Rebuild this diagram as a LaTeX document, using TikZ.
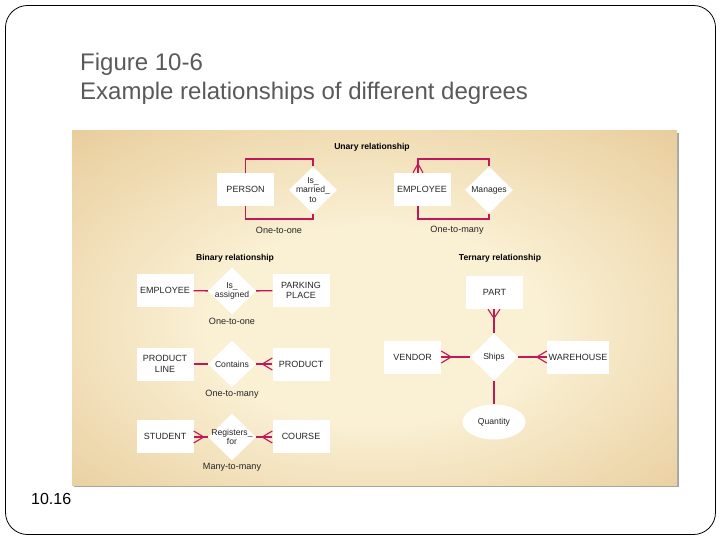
\documentclass[tikz,border=0pt]{standalone}
\usepackage{fontspec}
\setmainfont{Liberation Sans}
\usetikzlibrary{shapes.geometric,calc}
\definecolor{rl}{RGB}{192,24,88}
\definecolor{bgin}{RGB}{250,240,212}
\definecolor{bgout}{RGB}{220,182,118}
\definecolor{ttl}{RGB}{89,89,89}
\pgfdeclareradialshading{panelshade}{\pgfpoint{0bp}{-3bp}}{color(0bp)=(bgin); color(14bp)=(bgin); color(52bp)=(bgout); color(72bp)=(bgout)}
\begin{document}
\begin{tikzpicture}[x=1pt,y=-1pt,
  ent/.style={rectangle, fill=white, minimum width=57pt, minimum height=33pt, inner sep=1pt, font=\fontsize{9}{10.5}\selectfont, align=center, text=black!85},
  rel/.style={diamond, fill=white, minimum width=48pt, minimum height=47pt, inner sep=0pt},
  rtxt/.style={font=\fontsize{8.6}{9.8}\selectfont, align=center, inner sep=0pt, text=black!85},
  card/.style={font=\fontsize{9.1}{11}\selectfont, text=black!85, inner sep=0pt},
  head/.style={font=\bfseries\fontsize{8.6}{10}\selectfont, inner sep=0pt},
  conn/.style={draw=rl, line width=1.4pt},
  crow/.style={draw=rl, line width=1.1pt},
  ttlstyle/.style={font=\fontsize{24}{29}\selectfont, text=ttl, anchor=base west, inner sep=0pt}
]
\useasboundingbox (0,0) rectangle (720,540);
\draw[black, line width=0.8pt, rounded corners=22pt] (5.5,5.5) rectangle (715.5,534.5);

\node[ttlstyle] (t1) at (80,71) {Figure 10-6};
\node[ttlstyle] (t2) at (80,100) {Example relationships of different degrees};
\node[font=\fontsize{16}{19}\selectfont, anchor=base west, inner sep=0pt] (pg) at (31,504) {10.16};

% panel
\fill[black!35] (74,133) rectangle (678.5,486.5);
\shade[shading=panelshade] (72,131) rectangle (677,485);

% headings
\node[head] (hu) at (372,147) {Unary relationship};
\node[head] (hb) at (235,258) {Binary relationship};
\node[head] (ht) at (500,258) {Ternary relationship};

% unary
\node[ent] (person) at (245.5,189.5) {PERSON};
\node[rel] (marry) at (313,190) {};
\node[rtxt] at (marry) {Is\_\\married\_\\to};
\node[ent] (emp1) at (422,189.5) {EMPLOYEE};
\node[rel] (manages) at (489,190) {};
\node[rtxt] at (manages) {Manages};
\coordinate (u1t) at (0,159);
\coordinate (u1b) at (0,219);
\draw[conn] (person.north) -- (person.north |- u1t) -| (marry.north);
\draw[conn] (person.south) -- (person.south |- u1b) -| (marry.south);
\coordinate (e1t) at ($(emp1.north)+(-4,0)$);
\coordinate (e1b) at ($(emp1.south)+(-4,0)$);
\draw[conn] (e1t) -- (e1t |- u1t) -| (manages.north);
\draw[conn] (e1b) -- (e1b |- u1b) -| (manages.south);
\draw[crow] ($(e1t)+(-5,0)$) -- ($(e1t)+(0,-9)$) -- ($(e1t)+(5,0)$);
\node[card] (c1) at (279,230) {One-to-one};
\node[card] (c2) at (457,230) {One-to-many};

% binary
\node[ent] (emp2) at (165,290.5) {EMPLOYEE};
\node[rel] (assign) at (232,291) {};
\node[rtxt] at (assign) {Is\_\\assigned};
\node[ent] (park) at (301,290.5) {PARKING\\PLACE};
\draw[conn] (emp2) -- (assign);
\draw[conn] (assign) -- (park);
\node[card] (c3) at (232,321) {One-to-one};

\node[ent] (pline) at (165,364) {PRODUCT\\LINE};
\node[rel] (contains) at (232,364) {};
\node[rtxt] at (contains) {Contains};
\node[ent] (product) at (301,364) {PRODUCT};
\draw[conn] (pline) -- (contains);
\draw[conn] (contains) -- (product);
\draw[crow] ($(product.west)+(0,-6)$) -- ($(product.west)+(-10,0)$) -- ($(product.west)+(0,6)$);
\node[card] (c4) at (232,394) {One-to-many};

\node[ent] (student) at (165,436) {STUDENT};
\node[rel] (regs) at (232,437) {};
\node[rtxt] at (regs) {Registers\_\\for};
\node[ent] (course) at (301,436) {COURSE};
\draw[conn] (student.east |- regs) -- (regs);
\draw[conn] (regs) -- (course.west |- regs);
\draw[crow] ($(student.east |- regs)+(0,-6)$) -- ($(student.east |- regs)+(10,0)$) -- ($(student.east |- regs)+(0,6)$);
\draw[crow] ($(course.west |- regs)+(0,-6)$) -- ($(course.west |- regs)+(-10,0)$) -- ($(course.west |- regs)+(0,6)$);
\node[card] (c5) at (232,467) {Many-to-many};

% ternary
\node[ent] (part) at (494.5,292.5) {PART};
\node[rel] (ships) at (494,357) {};
\node[rtxt] at (ships) {Ships};
\node[ent] (vendor) at (412.5,357) {VENDOR};
\node[ent, minimum width=62pt] (wh) at (578,357) {WAREHOUSE};
\node[ellipse, fill=white, minimum width=63pt, minimum height=35pt, inner sep=0pt, font=\fontsize{8.6}{9.8}\selectfont, text=black!85] (qty) at (494,422) {Quantity};
\draw[conn] (part.south -| ships) -- (ships);
\draw[conn] (vendor) -- (ships);
\draw[conn] (ships) -- (wh);
\draw[conn] (ships) -- (qty);
\draw[crow] ($(part.south -| ships)+(-6,0)$) -- ($(part.south -| ships)+(0,9)$) -- ($(part.south -| ships)+(6,0)$);
\draw[crow] ($(vendor.east)+(0,-6)$) -- ($(vendor.east)+(10,0)$) -- ($(vendor.east)+(0,6)$);
\draw[crow] ($(wh.west)+(0,-6)$) -- ($(wh.west)+(-10,0)$) -- ($(wh.west)+(0,6)$);
\end{tikzpicture}
\end{document}
